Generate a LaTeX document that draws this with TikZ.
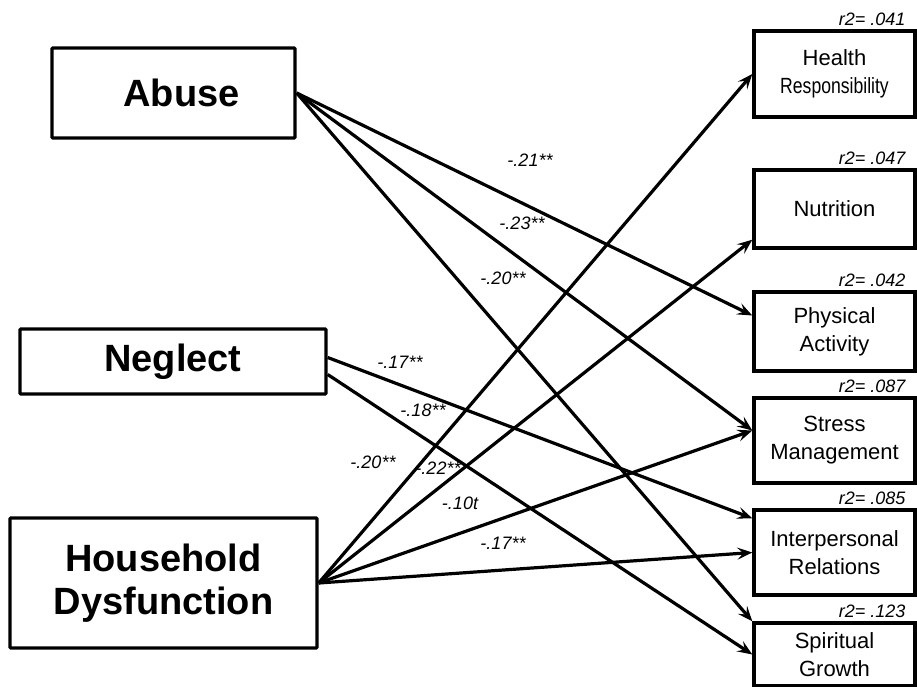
\documentclass[tikz,border=0pt]{standalone}
\usepackage{fontspec}
\setmainfont{Liberation Sans}
\usetikzlibrary{arrows.meta}
\begin{document}
\begin{tikzpicture}[x=1pt,y=-1pt,
  cause/.style={draw,line width=3.4pt,rounded corners=1pt,inner sep=0pt,align=center,
    font=\fontsize{38}{43}\selectfont\bfseries},
  outcome/.style={draw,line width=3.4pt,inner sep=0pt,align=center,minimum width=161pt,
    font=\fontsize{22}{28}\selectfont},
  effect/.style={line width=3.2pt,-{Stealth[length=15pt,width=12pt,inset=6pt]}},
  coef/.style={font=\fontsize{18}{18}\selectfont\itshape,inner sep=0pt},
  rsq/.style={font=\fontsize{18}{18}\selectfont\itshape,anchor=south east,inner sep=1pt}]
\useasboundingbox (0,0) rectangle (917,687);

% predictors
\node[cause,minimum width=243pt,minimum height=90pt] (abuse) at (173.5,93) {\hspace*{16pt}Abuse};
\node[cause,minimum width=306pt,minimum height=65pt] (neglect) at (173,361.5) {Neglect};
\node[cause,minimum width=307pt,minimum height=130pt] (house) at (163.5,583) {Household\\Dysfunction};

% outcomes
\node[outcome,minimum height=86pt] (health) at (834.5,74) {Health\\\scalebox{0.8}[1]{Responsibility}};
\node[outcome,minimum height=78pt] (nutr) at (834.5,209) {Nutrition};
\node[outcome,minimum height=79pt] (phys) at (834.5,331.5) {Physical\\Activity};
\node[outcome,minimum height=85pt] (stress) at (834.5,440.5) {Stress\\Management};
\node[outcome,minimum height=85pt] (inter) at (834.5,552.5) {Interpersonal\\Relations};
\node[outcome,minimum height=63pt] (spirit) at (834.5,654.5) {Spiritual\\Growth};

\node[rsq] (r2health) at ([xshift=-10pt,yshift=2pt]health.north east) {r2= .041};
\node[rsq] (r2nutr) at ([xshift=-10pt,yshift=2pt]nutr.north east) {r2= .047};
\node[rsq] (r2phys) at ([xshift=-10pt,yshift=2pt]phys.north east) {r2= .042};
\node[rsq] (r2stress) at ([xshift=-10pt,yshift=2pt]stress.north east) {r2= .087};
\node[rsq] (r2inter) at ([xshift=-10pt,yshift=2pt]inter.north east) {r2= .085};
\node[rsq] (r2spirit) at ([xshift=-10pt,yshift=2pt]spirit.north east) {r2= .123};

% paths
\draw[effect] (abuse.east) -- ([yshift=16pt]phys.west);
\draw[effect] (abuse.east) -- ([yshift=10pt]stress.west);
\draw[effect] (abuse.east) -- (spirit.north west);
\draw[effect] ([yshift=4pt]neglect.east) -- ([yshift=-10pt]inter.north west);
\draw[effect] ([yshift=-13pt]neglect.east) -- (spirit.west);
\draw[effect] (house.east) -- (health.west);
\draw[effect] (house.east) -- ([yshift=10pt]nutr.south west);
\draw[effect] (house.east) -- ([yshift=10pt]stress.west);
\draw[effect] (house.east) -- (inter.west);

\node[coef] (c1) at (530,160) {-.21**};
\node[coef] (c2) at (522,223) {-.23**};
\node[coef] (c3) at (503,278) {-.20**};
\node[coef] (c4) at (400,362) {-.17**};
\node[coef] (c5) at (423,410) {-.18**};
\node[coef] (c6) at (373,462) {-.20**};
\node[coef] (c7) at (438,468) {-.22**};
\node[coef] (c8) at (460,503) {-.10t};
\node[coef] (c9) at (503,543) {-.17**};
\end{tikzpicture}
\end{document}
